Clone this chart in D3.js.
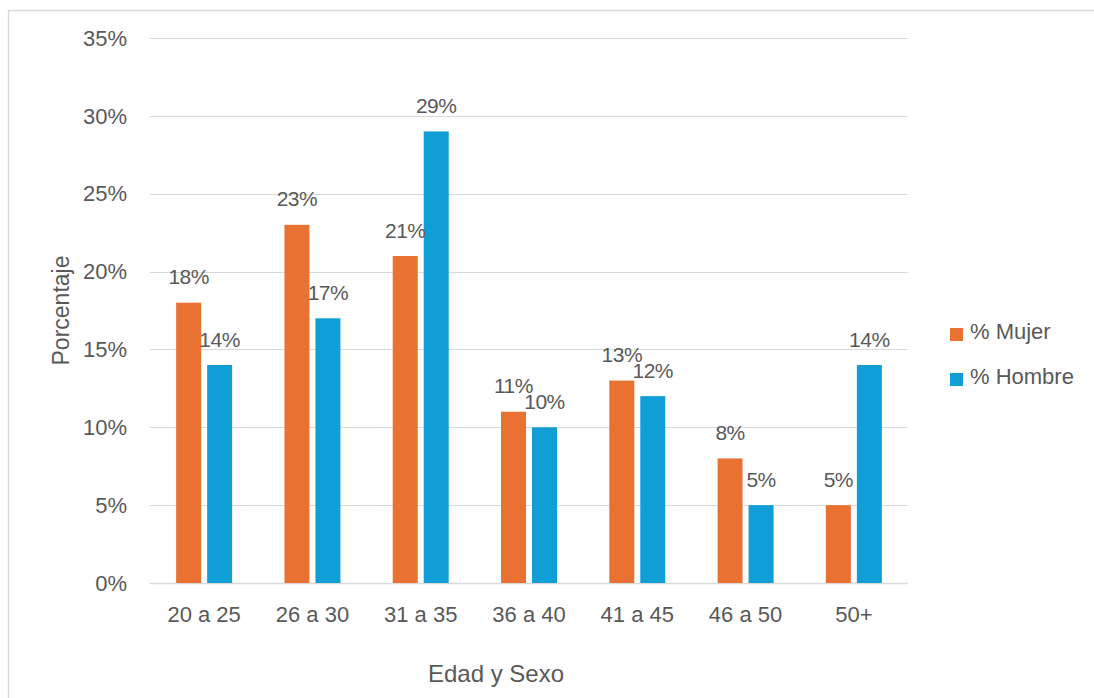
<!DOCTYPE html>
<html>
<head>
<meta charset="utf-8">
<script src="https://cdn.jsdelivr.net/npm/d3@7"></script>
<style>
  body { margin: 0; background: #fff; }
  svg { display: block; font-family: "Liberation Sans", Arial, sans-serif; }
</style>
</head>
<body>
<div id="container"></div>
<script>
const categories = ["20 a 25", "26 a 30", "31 a 35", "36 a 40", "41 a 45", "46 a 50", "50+"]
const series = ["% Mujer", "% Hombre"]
const mujer = [18, 23, 21, 11, 13, 8, 5]
const hombre = [14, 17, 29, 10, 12, 5, 14]
const yTicks = [0, 5, 10, 15, 20, 25, 30, 35]
const colors = ["#e97132", "#0f9ed5"]

const W = 1094, H = 698
const plotLeft = 150, plotRight = 908, plotTop = 38, plotBottom = 583

const svg = d3.select("div#container")
    .append("svg")
    .attr("width", W)
    .attr("height", H)

// chart frame
svg.append("rect")
    .attr("x", 8.5).attr("y", 10.5)
    .attr("width", W + 20).attr("height", H + 20)
    .attr("fill", "none")
    .attr("stroke", "#d9d9d9")
    .attr("stroke-width", 1.5)

const x0 = d3.scaleBand().domain(categories).range([plotLeft, plotRight])
const x1 = d3.scaleBand().domain(series).range([0, x0.bandwidth()])
    .paddingInner(0.194).paddingOuter(0.844)
const y = d3.scaleLinear().domain([0, 35]).range([plotBottom, plotTop])

// gridlines
svg.append("g")
    .selectAll("line")
    .data(yTicks)
    .enter()
    .append("line")
    .attr("x1", plotLeft).attr("x2", plotRight)
    .attr("y1", d => Math.round(y(d)) + 0.5)
    .attr("y2", d => Math.round(y(d)) + 0.5)
    .attr("stroke", "#d9d9d9")
    .attr("stroke-width", d => d === 0 ? 1.5 : 1.2)

// y tick labels
svg.append("g")
    .selectAll("text")
    .data(yTicks)
    .enter()
    .append("text")
    .attr("x", 127)
    .attr("y", d => y(d))
    .attr("dy", "0.35em")
    .attr("text-anchor", "end")
    .attr("fill", "#595959")
    .style("font-size", "22px")
    .text(d => d + "%")

const rows = categories.map((c, i) => ({ cat: c, vals: [mujer[i], hombre[i]] }))

const group = svg.append("g")
    .selectAll("g")
    .data(rows)
    .enter()
    .append("g")
    .attr("transform", d => `translate(${x0(d.cat)},0)`)

group.selectAll("rect")
    .data(d => d.vals.map((v, j) => ({ s: series[j], v: v, j: j })))
    .enter()
    .append("rect")
    .attr("x", d => x1(d.s))
    .attr("width", x1.bandwidth())
    .attr("y", d => y(d.v))
    .attr("height", d => y(0) - y(d.v))
    .attr("fill", d => colors[d.j])

// value labels, a little tighter so neighbours don't collide
group.selectAll("text")
    .data(d => d.vals.map((v, j) => ({ s: series[j], v: v, j: j })))
    .enter()
    .append("text")
    .attr("x", d => x1(d.s) + x1.bandwidth() / 2)
    .attr("y", d => y(d.v) - 18.5)
    .attr("text-anchor", "middle")
    .attr("fill", "#595959")
    .style("font-size", "21px")
    .style("letter-spacing", "-0.5px")
    .text(d => d.v + "%")

// x category labels
svg.append("g")
    .selectAll("text")
    .data(categories)
    .enter()
    .append("text")
    .attr("x", d => x0(d) + x0.bandwidth() / 2)
    .attr("y", 622)
    .attr("text-anchor", "middle")
    .attr("fill", "#595959")
    .style("font-size", "22px")
    .text(d => d)

// axis titles
svg.append("text")
    .attr("x", 496).attr("y", 682)
    .attr("text-anchor", "middle")
    .attr("fill", "#595959")
    .style("font-size", "24px")
    .text("Edad y Sexo")

svg.append("text")
    .attr("transform", `translate(69,${(plotTop + plotBottom) / 2}) rotate(-90)`)
    .attr("text-anchor", "middle")
    .attr("fill", "#595959")
    .style("font-size", "23px")
    .text("Porcentaje")

// legend
const legend = svg.append("g")
    .selectAll("g")
    .data(series)
    .enter()
    .append("g")
    .attr("transform", (d, i) => `translate(950,${328 + i * 45})`)

legend.append("rect")
    .attr("width", 13).attr("height", 13)
    .attr("fill", (d, i) => colors[i])

legend.append("text")
    .attr("x", 20).attr("y", 3)
    .attr("dy", "0.35em")
    .attr("fill", "#595959")
    .style("font-size", "22px")
    .text(d => d)
</script>
</body>
</html>
